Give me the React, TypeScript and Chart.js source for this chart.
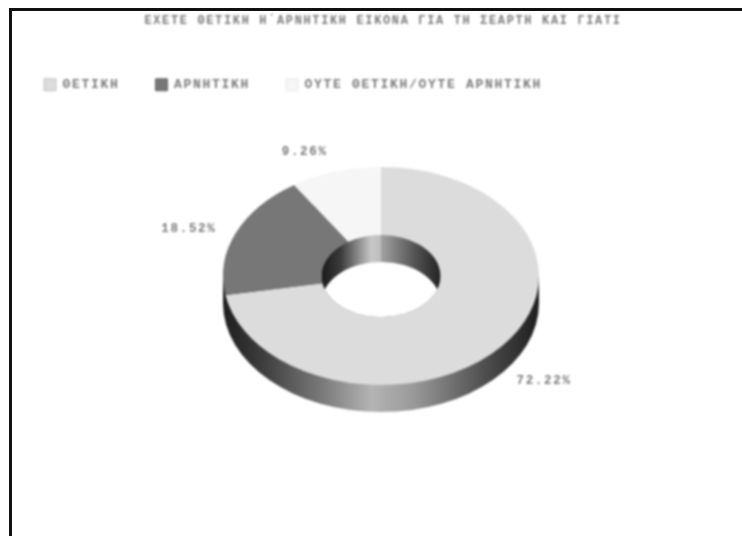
import React, { useEffect, useRef } from "react";
import { Chart, registerables } from "chart.js";

Chart.register(...registerables);

const titleText = "ΕΧΕΤΕ ΘΕΤΙΚΗ Η΄ΑΡΝΗΤΙΚΗ ΕΙΚΟΝΑ ΓΙΑ ΤΗ ΣΕΑΡΤΗ ΚΑΙ ΓΙΑΤΙ";
const categories = ["ΘΕΤΙΚΗ", "ΑΡΝΗΤΙΚΗ", "ΟΥΤΕ ΘΕΤΙΚΗ/ΟΥΤΕ ΑΡΝΗΤΙΚΗ"];
const values = [72.22, 18.52, 9.26];
const sliceColors = ["#dcdcdc", "#777777", "#f6f6f6"];
const legendStrokes = ["#c4c4c4", "#666666", "#e8e8e8"];

const FONT = "'Liberation Mono', monospace";
const TEXT = "#7a7a7a";
const SQUASH = 0.69;
const DEPTH = 27;
const CX = 381;
const CY = 276;
const labelOffsets = [
  [42, 35],
  [-47, -4],
  [-31, -20],
];

const depthPlugin = {
  id: "depth",
  beforeLayout(chart: any) {
    chart.ctx.letterSpacing = "1.7px";
  },
  afterLayout(chart: any) {
    if (chart.titleBlock) {
      chart.titleBlock.left += 8;
      chart.titleBlock.right += 8;
    }
  },
  beforeDraw(chart: any) {
    chart.ctx.letterSpacing = "1.7px";
  },
  beforeDatasetsDraw(chart: any) {
    const ctx = chart.ctx;
    const arc = chart.getDatasetMeta(0).data[0];
    const R = arc.outerRadius;
    const r = arc.innerRadius;
    const RY = R * SQUASH;
    const ry = r * SQUASH;

    const wall = ctx.createLinearGradient(CX - R, 0, CX + R, 0);
    wall.addColorStop(0, "#1e1e1e");
    wall.addColorStop(0.12, "#3c3c3c");
    wall.addColorStop(0.32, "#7c7c7c");
    wall.addColorStop(0.47, "#b4b4b4");
    wall.addColorStop(0.6, "#9a9a9a");
    wall.addColorStop(0.85, "#484848");
    wall.addColorStop(1, "#1e1e1e");
    ctx.save();
    ctx.fillStyle = wall;
    ctx.beginPath();
    ctx.ellipse(CX, CY + DEPTH, R, RY, 0, 0, Math.PI * 2);
    ctx.fill();
    ctx.fillRect(CX - R, CY, R * 2, DEPTH);
    ctx.restore();

    ctx.save();
    ctx.beginPath();
    ctx.ellipse(CX, CY, r, ry, 0, 0, Math.PI * 2);
    ctx.clip();
    const inner = ctx.createLinearGradient(CX - r, 0, CX + r, 0);
    inner.addColorStop(0, "#1a1a1a");
    inner.addColorStop(0.16, "#3a3a3a");
    inner.addColorStop(0.42, "#c8c8c8");
    inner.addColorStop(0.5, "#bdbdbd");
    inner.addColorStop(0.501, "#a2a2a2");
    inner.addColorStop(0.78, "#555555");
    inner.addColorStop(1, "#222222");
    ctx.fillStyle = inner;
    ctx.fillRect(CX - r, CY - ry, r * 2, ry * 2);
    ctx.fillStyle = "#ffffff";
    ctx.beginPath();
    ctx.ellipse(CX, CY + DEPTH, r, ry, 0, 0, Math.PI * 2);
    ctx.fill();
    ctx.restore();

    ctx.save();
    ctx.translate(CX, CY);
    ctx.scale(1, SQUASH);
    ctx.translate(-arc.x, -arc.y);
  },
  afterDatasetsDraw(chart: any) {
    const ctx = chart.ctx;
    ctx.restore();
    const arcs = chart.getDatasetMeta(0).data;
    ctx.save();
    ctx.font = `bold 12.5px ${FONT}`;
    ctx.fillStyle = TEXT;
    ctx.textAlign = "center";
    ctx.textBaseline = "middle";
    ctx.letterSpacing = "1.7px";
    arcs.forEach((a: any, i: number) => {
      const mid = (a.startAngle + a.endAngle) / 2;
      const x = CX + Math.cos(mid) * a.outerRadius + labelOffsets[i][0];
      const y = CY + Math.sin(mid) * a.outerRadius * SQUASH + labelOffsets[i][1];
      ctx.fillText(`${values[i].toFixed(2)}%`, x, y);
    });
    ctx.restore();
  },
};

export default function App() {
  const ref = useRef<HTMLCanvasElement>(null);
  useEffect(() => {
    const base = (Chart as any).overrides.doughnut.plugins.legend.labels.generateLabels;
    const chart = new Chart(ref.current as HTMLCanvasElement, {
      type: "doughnut",
      data: {
        labels: categories,
        datasets: [
          {
            data: values,
            backgroundColor: sliceColors,
            borderWidth: 0,
            radius: 158,
            cutout: "37.7%",
            clip: false,
          } as any,
        ],
      },
      options: {
        animation: false,
        responsive: false,
        devicePixelRatio: 1,
        layout: { padding: { left: 8, right: 0, top: 0, bottom: 0 } },
        plugins: {
          tooltip: { enabled: false },
          title: {
            display: true,
            text: titleText,
            color: TEXT,
            font: { family: FONT, size: 11.9, weight: "bold" },
            padding: { top: 13.5, bottom: 14.5 },
          },
          legend: {
            position: "top",
            align: "start",
            labels: {
              boxWidth: 12,
              boxHeight: 12,
              padding: 36,
              color: TEXT,
              font: { family: FONT, size: 13, weight: "bold" },
              generateLabels(c: any) {
                return base(c).map((l: any, i: number) => ({
                  ...l,
                  strokeStyle: legendStrokes[i],
                  lineWidth: 1,
                }));
              },
            },
          },
        },
      } as any,
      plugins: [depthPlugin as any],
    });
    return () => chart.destroy();
  }, []);
  return (
    <div style={{ position: "fixed", left: 0, top: 0, width: 742, height: 536, background: "#fff", overflow: "hidden" }}>
      <canvas ref={ref} width={742} height={536} style={{ display: "block", filter: "blur(1px)" }} />
      <div style={{ position: "absolute", left: 9, top: 8, right: 0, bottom: 0, borderLeft: "3px solid #111", borderTop: "3px solid #111" }} />
    </div>
  );
}
